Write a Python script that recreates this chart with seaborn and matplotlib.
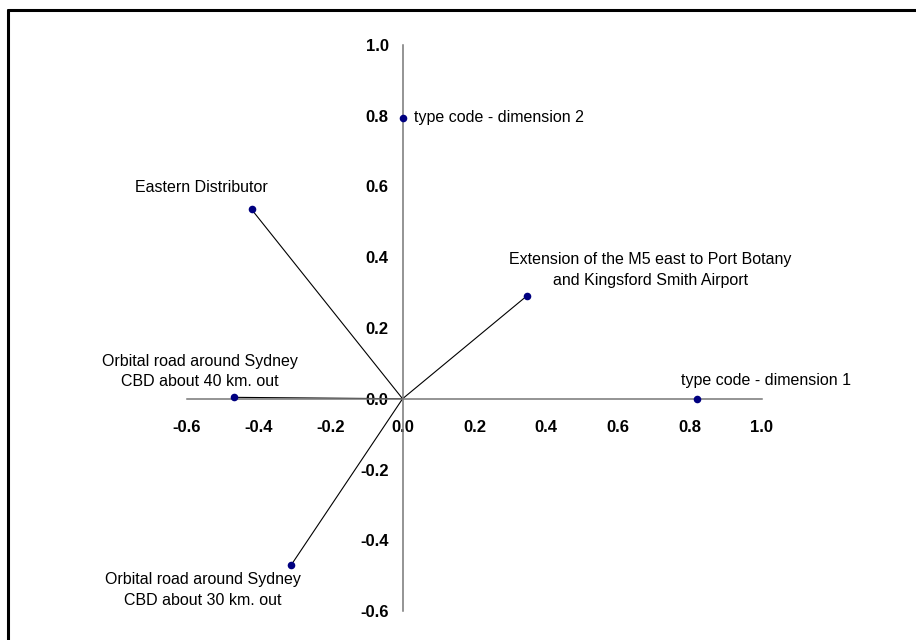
import numpy as np
import pandas as pd
import matplotlib
matplotlib.use("Agg")
import matplotlib.pyplot as plt
from matplotlib.lines import Line2D
from matplotlib.ticker import FormatStrFormatter
import seaborn as sns

# Datos
etiquetas = ["type code - dimension 1",
             "type code - dimension 2",
             "Eastern Distributor",
             "Extension of the M5 east to Port Botany\nand Kingsford Smith Airport",
             "Orbital road around Sydney\nCBD about 40 km. out",
             "Orbital road around Sydney\nCBD about 30 km. out"]
dim1 = [0.82, 0.0, -0.42, 0.345, -0.47, -0.31]
dim2 = [0.0, 0.795, 0.535, 0.29, 0.004, -0.47]
con_linea = [False, False, True, True, True, True]

xticks = [-0.6, -0.4, -0.2, 0.0, 0.2, 0.4, 0.6, 0.8, 1.0]
yticks = [-0.6, -0.4, -0.2, 0.0, 0.2, 0.4, 0.6, 0.8, 1.0]

df = pd.DataFrame({"label": etiquetas, "d1": dim1, "d2": dim2, "linea": con_linea})

sns.set_style("white")
plt.rcParams["font.family"] = ["Liberation Sans", "DejaVu Sans"]
plt.rcParams["axes.unicode_minus"] = False
plt.rcParams["text.color"] = "black"
plt.rcParams["xtick.labelcolor"] = "black"
plt.rcParams["ytick.labelcolor"] = "black"

fig = plt.figure(figsize=(9.16, 6.4), dpi=100)
ax = fig.add_axes([0.2041, 0.0453, 0.6277, 0.8844])

# lineas desde el origen
for _, r in df[df["linea"]].iterrows():
    ax.plot([0, r["d1"]], [0, r["d2"]], color="black", lw=0.8, zorder=2)

sns.scatterplot(data=df, x="d1", y="d2", ax=ax, color="#000080", s=30,
                edgecolor="#000080", linewidth=0, zorder=3, legend=False)

# posiciones de las etiquetas (pixeles respecto al punto)
desplaz = [(69, 18, "center", "center"),
           (11, 0, "left", "center"),
           (-50, 22, "center", "center"),
           (124, 26, "center", "center"),
           (-34, 26, "center", "center"),
           (-88, -25, "center", "center")]
for (_, r), (dx, dy, ha, va) in zip(df.iterrows(), desplaz):
    ax.annotate(r["label"], (r["d1"], r["d2"]), xytext=(dx, dy),
                textcoords="offset pixels", ha=ha, va=va, fontsize=11.5,
                color="black", multialignment="center", linespacing=1.45)

ax.set_xlim(-0.6, 1.0)
ax.set_ylim(-0.6, 1.0)
ax.set_xticks(xticks)
ax.set_yticks(yticks)
ax.xaxis.set_major_formatter(FormatStrFormatter("%.1f"))
ax.yaxis.set_major_formatter(FormatStrFormatter("%.1f"))
ax.set_xlabel("")
ax.set_ylabel("")

for s in ["top", "right"]:
    ax.spines[s].set_visible(False)
ax.spines["left"].set_position(("data", 0))
ax.spines["bottom"].set_position(("data", 0))
for s in ["left", "bottom"]:
    ax.spines[s].set_color("#777777")
    ax.spines[s].set_linewidth(1.1)

ax.tick_params(axis="both", direction="out", length=4, width=1, color="#777777",
               labelsize=12, labelcolor="black")
ax.tick_params(axis="x", pad=11)
ax.tick_params(axis="y", pad=6)
for t in ax.get_xticklabels() + ax.get_yticklabels():
    t.set_fontweight("bold")

# marco de la figura (solo izquierda y arriba visibles)
fig.add_artist(Line2D([8 / 916, 8 / 916], [0, 1 - 10 / 640], color="black", lw=2.2,
                      transform=fig.transFigure))
fig.add_artist(Line2D([8 / 916, 1], [1 - 10 / 640, 1 - 10 / 640], color="black", lw=2.2,
                      transform=fig.transFigure))

fig.savefig("out.png", dpi=100)
